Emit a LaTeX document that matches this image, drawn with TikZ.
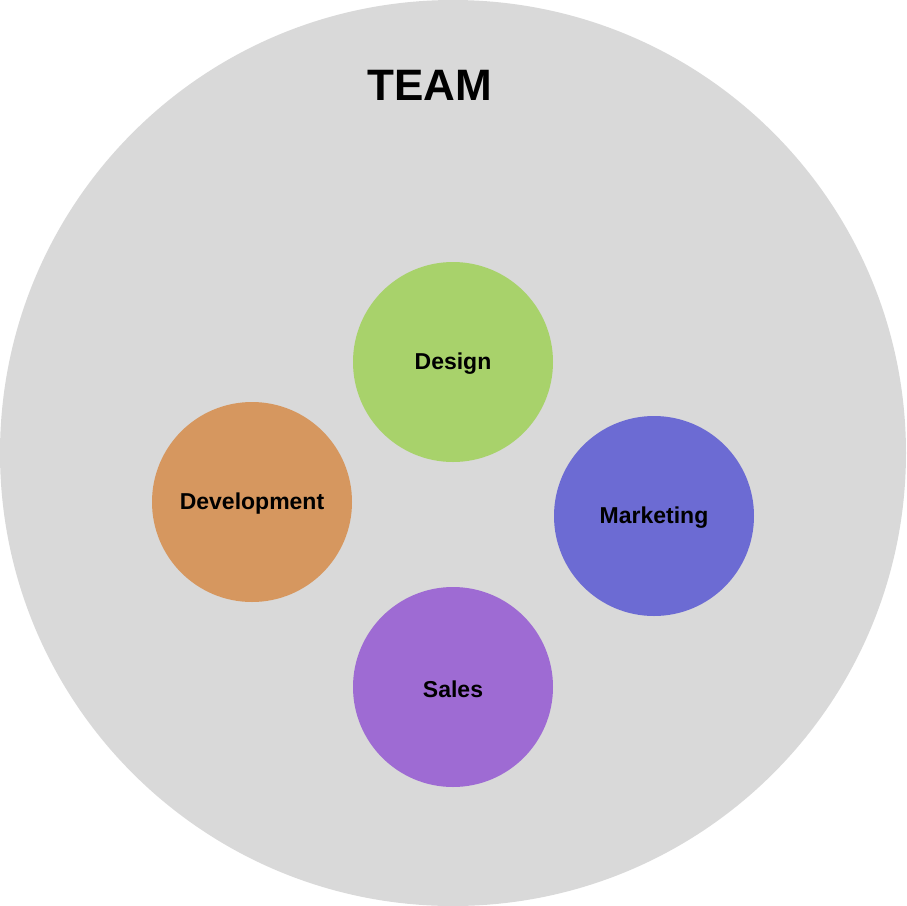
\documentclass[tikz,border=0pt]{standalone}
\usepackage{fontspec}
\setmainfont{Liberation Sans}
\definecolor{teamgray}{HTML}{D9D9D9}
\definecolor{dgreen}{HTML}{A8D26B}
\definecolor{dorange}{HTML}{D6975F}
\definecolor{dblue}{HTML}{6C6BD3}
\definecolor{dpurple}{HTML}{9E6BD3}
\begin{document}
\begin{tikzpicture}[x=1pt,y=-1pt,
  group/.style={circle,minimum size=200pt,inner sep=0pt,font=\fontsize{23}{27}\selectfont\bfseries,text=black},
  grouplabel/.style={font=\fontsize{23}{27}\selectfont\bfseries,text=black,inner sep=0pt}]
\useasboundingbox (0,0) rectangle (906,906);
\node[circle,fill=teamgray,minimum size=906pt,inner sep=0pt] (team) at (453,453) {};
\node[font=\fontsize{44}{52}\selectfont\bfseries] (title) at (430,85) {TEAM};
\node[group,fill=dgreen] (design) at (453,362) {};
\node[group,fill=dorange] (dev) at (252,502) {};
\node[group,fill=dblue] (mkt) at (654,516) {};
\node[group,fill=dpurple] (sales) at (453,687) {};
\node[grouplabel] (designl) at ([yshift=-2pt]design.center) {Design};
\node[grouplabel] (devl) at ([yshift=-2pt]dev.center) {Development};
\node[grouplabel] (mktl) at ([yshift=-2pt]mkt.center) {Marketing};
\node[grouplabel] (salesl) at ([yshift=-2pt]sales.center) {Sales};
\end{tikzpicture}
\end{document}
